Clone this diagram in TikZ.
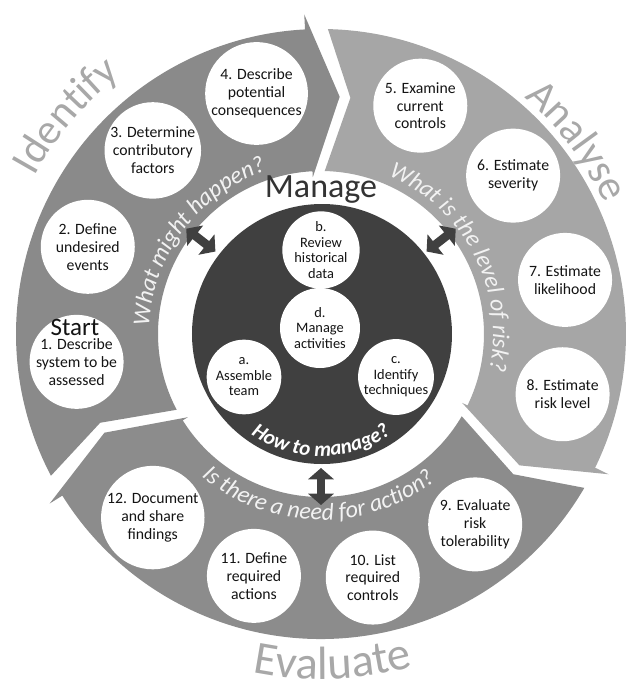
\documentclass[tikz,border=0pt]{standalone}
\usepackage{fontspec}
\setmainfont{Carlito}
\usetikzlibrary{decorations.text, arrows.meta}

\definecolor{identc}{gray}{0.54}
\definecolor{analc}{gray}{0.65}
\definecolor{evalc}{gray}{0.55}
\definecolor{darkc}{gray}{0.25}
\definecolor{labelc}{gray}{0.66}
\definecolor{ringtxt}{gray}{0.95}
\definecolor{inkc}{gray}{0.08}
\definecolor{titlec}{gray}{0.2}

% tail angle, head barb angle, colour
\newcommand{\ringseg}[3]{%
  \fill[#3] (#1:305) arc[start angle=#1, end angle=#2, radius=305]
    -- (#2:320) -- ({#2-7.5}:238) -- (#2:157) -- (#2:163)
    arc[start angle=#2, end angle=#1, radius=163]
    -- ({#1-5.8}:238) -- cycle;}

\begin{document}
\begin{tikzpicture}[x=0.75pt, y=0.75pt,
  stepc/.style={circle, fill=white, minimum size=70.5pt, inner sep=0pt, align=center,
    text=inkc, font=\fontsize{11.8}{13.4}\selectfont},
  innerc/.style={circle, fill=white, inner sep=0pt, align=center,
    text=inkc, font=\fontsize{10.8}{11.6}\selectfont},
  dblarr/.style={draw=darkc, line width=6.5pt,
    {Triangle[width=19pt,length=8.5pt]}-{Triangle[width=19pt,length=8.5pt]}}
]
\useasboundingbox (-321,-353) rectangle (307,334);

% ring segments
\ringseg{207.7}{93}{identc}
\ringseg{88.7}{-26}{analc}
\ringseg{-30.3}{-148}{evalc}

% central circle
\node[circle, fill=darkc, minimum size=195pt, inner sep=0pt] (manage) at (1,0) {};
\node[anchor=base, text=titlec, font=\fontsize{25.5}{25.5}\selectfont] (managetitle) at (0,137) {Manage};

\node[innerc, minimum size=55pt] (b) at (0,84) {b.\\Review\\historical\\data};
\node[innerc, minimum size=60pt] (d) at (-1,6) {d.\\Manage\\activities};
\node[innerc, minimum size=56pt] (a) at (-77,-43) {a.\\Assemble\\team};
\node[innerc, minimum size=56pt] (c) at (75,-43) {c.\\Identify\\techniques};

\path[decorate, decoration={text along path, text align=center, text color=white,
  text={|\fontsize{15.75}{15.75}\selectfont\bfseries\itshape|How to manage?}}]
  (220:122) arc[start angle=220, end angle=320, radius=122];

% steps
\node[stepc] (s1) at (186.5:246) {1. Describe\\system to be\\assessed};
\node[anchor=base, text=inkc, font=\fontsize{18.75}{18.75}\selectfont] (start) at (-246,-1) {Start};
\node[stepc] (s2) at (159.5:249) {2. Define\\undesired\\events};
\node[stepc] (s3) at (132.5:249) {3. Determine\\contributory\\factors};
\node[stepc] (s4) at (105:249) {4. Describe\\potential\\consequences};
\node[stepc] (s5) at (66.5:249) {5. Examine\\current\\controls};
\node[stepc] (s6) at (39.5:249) {6. Estimate\\severity};
\node[stepc] (s7) at (12.5:250) {7. Estimate\\likelihood};
\node[stepc] (s8) at (-14:249) {8. Estimate\\risk level};
\node[stepc] (s9) at (-51:245) {9. Evaluate\\risk\\tolerability};
\node[stepc] (s10) at (-78:249) {10. List\\required\\controls};
\node[stepc] (s11) at (-105.5:251) {11. Define\\required\\actions};
\node[stepc] (s12) at (-132.5:249) {12. Document\\and share\\findings};

% curved questions
\path[decorate, decoration={text along path, text align=center, text color=ringtxt,
  text={|\fontsize{18}{18}\selectfont\itshape|What might happen?}}]
  (182:172) arc[start angle=182, end angle=104, radius=172];
\path[decorate, decoration={text along path, text align=center, text color=ringtxt,
  text={|\fontsize{18}{18}\selectfont\itshape|What is the level of risk?}}]
  (72:172) arc[start angle=72, end angle=-17, radius=172];
\path[decorate, decoration={text along path, text align=center, text color=ringtxt,
  text={|\fontsize{18}{18}\selectfont\itshape|Is there a need for action?}}]
  (222:186) arc[start angle=222, end angle=316, radius=186];

% phase labels
\path[decorate, decoration={text along path, text align=center, text color=labelc,
  text={|\fontsize{32}{32}\selectfont|Identify}}]
  (165:327) arc[start angle=165, end angle=114, radius=327];
\path[decorate, decoration={text along path, text align=center, text color=labelc,
  text={|\fontsize{32}{32}\selectfont|Analyse}}]
  (63:312) arc[start angle=63, end angle=11, radius=312];
\path[decorate, decoration={text along path, text align=center, text color=labelc,
  text={|\fontsize{35}{35}\selectfont|Evaluate}}]
  (244:345) arc[start angle=244, end angle=300, radius=345];

% double arrows
\coordinate (ul1) at (142:134); \coordinate (ul2) at (142:171);
\coordinate (ur1) at (38:134);  \coordinate (ur2) at (38:171);
\coordinate (bt1) at (-90:134); \coordinate (bt2) at (-90:171);
\draw[dblarr] (ul1) -- (ul2);
\draw[dblarr] (ur1) -- (ur2);
\draw[dblarr] (bt1) -- (bt2);
\end{tikzpicture}
\end{document}
